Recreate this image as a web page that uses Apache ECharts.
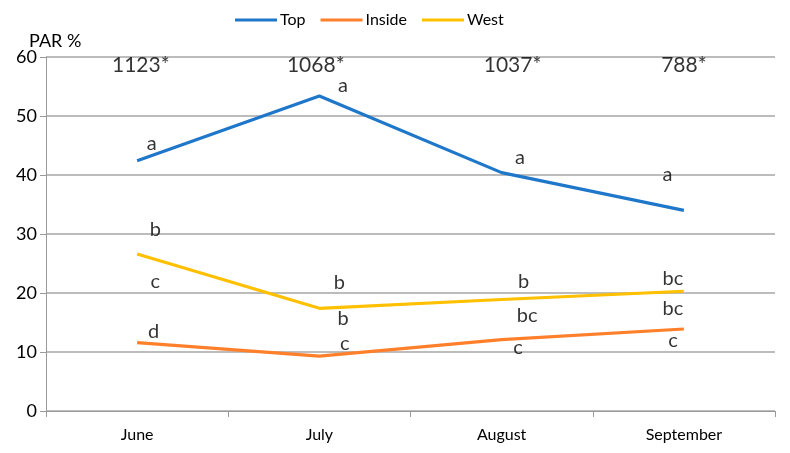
<!DOCTYPE html>
<html>
<head>
<meta charset="utf-8">
<script src="https://cdn.jsdelivr.net/npm/echarts@6/dist/echarts.min.js"></script>
<style>
  html, body { margin: 0; padding: 0; background: #fff; }
</style>
</head>
<body>
<div id="par" style="width: 790px; height: 453px"></div>
<script>
// months
const months = ['June', 'July', 'August', 'September'];
// PAR % per position
const topValues = [42.4, 53.4, 40.4, 34.0];
const insideValues = [11.6, 9.3, 12.1, 13.9];
const westValues = [26.6, 17.4, 18.9, 20.3];
// totals above each month: [x, y, text]
const totals = [[0.52, 58.6, '1123*'], [1.48, 58.6, '1068*'], [2.56, 58.6, '1037*'], [3.50, 58.6, '788*']];
// significance letters: [x, y, text]
const letters = [
  [0.58, 45.4, 'a'], [0.60, 30.8, 'b'], [0.60, 22.0, 'c'], [0.59, 13.4, 'd'],
  [1.63, 55.1, 'a'], [1.61, 21.7, 'b'], [1.63, 15.6, 'b'], [1.64, 11.4, 'c'],
  [2.60, 43.0, 'a'], [2.62, 21.9, 'b'], [2.64, 16.1, 'bc'], [2.59, 10.8, 'c'],
  [3.41, 40.0, 'a'], [3.44, 22.4, 'bc'], [3.44, 17.3, 'bc'], [3.44, 11.9, 'c']
];

const font = 'Lato, "Open Sans", sans-serif';
const chart = echarts.init(document.getElementById('par'));

function textSeries(data, size) {
  return {
    type: 'scatter',
    xAxisIndex: 1,
    symbolSize: 0,
    silent: true,
    data: data,
    label: {
      show: true,
      position: 'inside',
      formatter: p => p.value[2],
      color: '#000',
      fontSize: size,
      fontFamily: font
    }
  };
}

chart.setOption({
  animation: false,
  textStyle: { fontFamily: font },
  legend: {
    data: ['Top', 'Inside', 'West'],
    left: 230,
    top: 7,
    icon: 'rect',
    itemWidth: 42,
    itemHeight: 3,
    itemGap: 15,
    textStyle: { fontSize: 16, color: '#000', padding: [0, 0, 0, -2] }
  },
  grid: { left: 46, right: 15, top: 57, bottom: 42 },
  graphic: [{
    type: 'text',
    left: 29,
    top: 32,
    style: { text: 'PAR %', fontSize: 18, fill: '#000', fontFamily: font }
  }],
  xAxis: [{
    type: 'category',
    data: months,
    boundaryGap: true,
    axisLine: { lineStyle: { color: '#9a9a9a', width: 1 } },
    axisTick: { show: true, length: 6, lineStyle: { color: '#9a9a9a' } },
    axisLabel: { color: '#000', fontSize: 16, margin: 16 }
  }, {
    type: 'value',
    min: 0,
    max: 4,
    show: false
  }],
  yAxis: {
    type: 'value',
    min: 0,
    max: 60,
    interval: 10,
    axisLine: { show: true, lineStyle: { color: '#9a9a9a' } },
    axisTick: { show: true, length: 6, inside: false, lineStyle: { color: '#9a9a9a' } },
    axisLabel: { color: '#000', fontSize: 18, margin: 9 },
    splitLine: { lineStyle: { color: '#a6a6a6', width: 1.5 } }
  },
  series: [
    { name: 'Top', type: 'line', data: topValues, symbol: 'none', color: '#1f77c9', lineStyle: { width: 3.2 } },
    { name: 'Inside', type: 'line', data: insideValues, symbol: 'none', color: '#ff7f2a', lineStyle: { width: 3.2 } },
    { name: 'West', type: 'line', data: westValues, symbol: 'none', color: '#ffc000', lineStyle: { width: 3.2 } },
    textSeries(totals, 21),
    textSeries(letters, 20)
  ]
});
</script>
</body>
</html>
